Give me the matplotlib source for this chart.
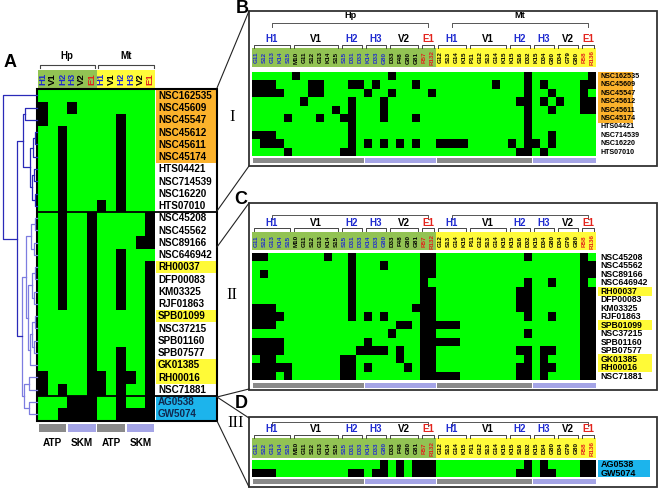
import numpy as np
import matplotlib.pyplot as plt
from matplotlib.patches import Rectangle
from matplotlib.colors import ListedColormap

plt.rcParams['font.family'] = ['Liberation Sans', 'DejaVu Sans']
plt.rcParams['font.weight'] = 'bold'

# ---------------- data ----------------
group_names = ["H1", "V1", "H2", "H3", "V2", "E1"]
bar_assay = ["ATP", "ATP", "ATP", "SKM", "SKM", "SKM"]
hp_residues = [["G11", "S12", "G13", "K14", "S15"],
               ["M10", "G11", "S12", "G13", "K14", "S15"],
               ["S15", "D31", "D33"],
               ["K14", "D33", "G80"],
               ["D33", "F48", "G80", "G81"],
               ["R57", "R132"]]
mt_residues = [["G12", "S13", "G14", "K15"],
               ["P11", "G12", "S13", "G14", "K15"],
               ["K15", "S16", "D32"],
               ["K15", "D34", "G80"],
               ["D34", "G79", "G80"],
               ["R58", "R136"]]

cluster_I = ["NSC162535", "NSC45609", "NSC45547", "NSC45612", "NSC45611",
             "NSC45174", "HTS04421", "NSC714539", "NSC16220", "HTS07010"]
cluster_II = ["NSC45208", "NSC45562", "NSC89166", "NSC646942", "RH00037",
              "DFP00083", "KM03325", "RJF01863", "SPB01099", "NSC37215",
              "SPB01160", "SPB07577", "GK01385", "RH00016", "NSC71881"]
cluster_III = ["AG0538", "GW5074"]

orange_names = ["NSC162535", "NSC45609", "NSC45547", "NSC45612", "NSC45611", "NSC45174"]
yellow_names = ["RH00037", "SPB01099", "GK01385", "RH00016"]
cyan_names = ["AG0538", "GW5074"]

# black cells (column index per row); everything else is green
summary_black = [[], [0, 3], [0, 8], [2, 8], [2, 8], [2, 8], [2, 8], [2, 8], [2, 8],
                 [2, 6, 8],
                 [2, 5, 11], [2, 5, 11], [2, 5, 10, 11], [2, 5, 8], [2, 5, 8, 11],
                 [2, 5, 8, 11], [2, 5, 8, 11], [2, 5, 8, 11], [5, 11], [5, 11],
                 [5, 11], [5, 8, 11], [5, 8, 11], [0, 5, 6, 8, 9, 11], [0, 2, 5, 6, 8, 11],
                 [3, 4, 5, 8, 11], [2, 3, 4, 5, 8, 9, 10, 11]]

cluster_I_black = [[5, 17, 34, 42],
                   [0, 1, 2, 7, 8, 12, 13, 15, 20, 30, 34, 36, 41, 42],
                   [0, 1, 2, 3, 7, 8, 14, 17, 22, 34, 37, 41],
                   [6, 12, 16, 33, 34, 36, 38, 41, 42],
                   [10, 12, 16, 34, 37, 41, 42],
                   [4, 8, 11, 12, 16, 20, 34],
                   [12, 34],
                   [0, 1, 2, 12, 34, 37],
                   [1, 2, 3, 12, 14, 16, 18, 20, 23, 24, 25, 26, 32, 34, 35, 37],
                   [4, 11, 12, 33, 34, 36]]

cluster_II_black = [[0, 1, 9, 12, 21, 22, 34, 41],
                    [12, 16, 21, 22, 41, 42],
                    [1, 12, 21, 22, 41, 42],
                    [12, 21, 34, 37, 41],
                    [12, 21, 22, 33, 34, 41, 42],
                    [12, 21, 22, 33, 34, 41, 42],
                    [0, 1, 2, 12, 20, 21, 22, 33, 34, 41, 42],
                    [0, 1, 2, 3, 12, 14, 16, 21, 22, 34, 37, 41, 42],
                    [0, 1, 2, 18, 19, 21, 22, 23, 24, 25, 41, 42],
                    [17, 21, 22, 34, 41, 42],
                    [0, 1, 2, 3, 14, 21, 22, 23, 24, 25, 41, 42],
                    [0, 1, 2, 3, 13, 14, 15, 16, 18, 21, 22, 33, 34, 36, 37, 41, 42],
                    [1, 2, 11, 12, 18, 21, 22, 34, 36, 41, 42],
                    [0, 1, 2, 3, 4, 11, 12, 14, 19, 21, 22, 33, 34, 36, 37, 41, 42],
                    [0, 1, 2, 4, 11, 12, 21, 22, 23, 24, 25, 33, 34, 36, 41, 42]]

cluster_III_black = [[16, 18, 20, 21, 22, 34, 36, 41, 42],
                     [0, 1, 2, 12, 13, 15, 16, 18, 20, 21, 22, 33, 34, 36, 37, 41, 42]]

# dendrogram merges: (child a, child b, distance); new node id = 27 + index
merges = [(3, 4, 2), (27, 5, 4), (6, 7, 3), (8, 9, 2), (29, 30, 5), (28, 31, 7),
          (1, 2, 12), (33, 32, 14), (10, 11, 2), (12, 13, 3), (35, 36, 6),
          (14, 15, 2), (16, 17, 3), (38, 39, 5), (18, 19, 2), (20, 21, 3),
          (41, 42, 5), (43, 22, 7), (40, 44, 9), (37, 45, 11), (23, 24, 8),
          (25, 26, 8), (47, 48, 13), (46, 49, 15), (34, 50, 20), (0, 51, 34)]

# ---------------- style ----------------
GREEN = "#00ff00"
heat_cmap = ListedColormap([GREEN, "#000000"])
HP_BAND = "#92c353"
MT_BAND = "#fffb3a"
BLUE = "#1f2bd0"
RED = "#e3231c"
ORANGE_HL = "#fbb22c"
YELLOW_HL = "#fffa37"
CYAN_HL = "#1cb4ec"
BAR_COL = {"ATP": "#8a8a8a", "SKM": "#a4a4e6"}
group_color = [BLUE, "black", BLUE, BLUE, "black", RED]

fig = plt.figure(figsize=(6.62, 4.91), dpi=100)
ax = fig.add_axes([0, 0, 1, 1])
ax.set_xlim(0, 662)
ax.set_ylim(491, 0)
ax.axis("off")


def hl_color(name):
    if name in orange_names:
        return ORANGE_HL
    if name in yellow_names:
        return YELLOW_HL
    if name in cyan_names:
        return CYAN_HL
    return None


# ---------------- panel A ----------------
AX0, AX1 = 38, 155
AY0, AY1 = 89.3, 420.3
all_names = cluster_I + cluster_II + cluster_III
nA = len(all_names)
aw = (AX1 - AX0) / 12
ah = (AY1 - AY0) / nA

matA = np.zeros((nA, 12))
for r, cs in enumerate(summary_black):
    matA[r, cs] = 1
ax.pcolormesh(np.linspace(AX0, AX1, 13), np.linspace(AY0, AY1, nA + 1), matA,
              cmap=heat_cmap, vmin=0, vmax=1)

# header band
ax.add_patch(Rectangle((AX0, 70), 6 * aw, 18, fc=HP_BAND, ec="none"))
ax.add_patch(Rectangle((AX0 + 6 * aw, 70), 6 * aw, 18, fc=MT_BAND, ec="none"))
for p in range(2):
    for g, name in enumerate(group_names):
        c = p * 6 + g
        ax.text(AX0 + (c + 0.5) * aw, 79, name, rotation=90, ha="center", va="center",
                fontsize=6.8, color=group_color[g])
    xa, xb = AX0 + p * 6 * aw + 1.5, AX0 + (p + 1) * 6 * aw - 1.5
    ax.plot([xa, xa, xb, xb], [67.5, 64.5, 64.5, 67.5], color="#444444", lw=0.8)
    ax.text((xa + xb) / 2, 56, ["Hp", "Mt"][p], ha="center", va="center", fontsize=7)

# labels with highlights
for r, name in enumerate(all_names):
    col = hl_color(name)
    y = AY0 + r * ah
    if col:
        ax.add_patch(Rectangle((155.5, y), 61, ah, fc=col, ec="none"))
    ax.text(158, y + ah / 2 + 0.3, name, ha="left", va="center", fontsize=7.1,
            color="#10284e" if name in cyan_names else "black")

# frame
ax.add_patch(Rectangle((37, 88.5), 180, 332.5, fc="none", ec="black", lw=1.5))
for k in [len(cluster_I), len(cluster_I) + len(cluster_II)]:
    ax.plot([37, 217], [AY0 + k * ah] * 2, color="black", lw=1.3)

# assay bars
for p in range(2):
    for assay in ["ATP", "SKM"]:
        gs = [g for g in range(6) if bar_assay[g] == assay]
        x0 = AX0 + (p * 6 + gs[0]) * aw + 0.8
        x1 = AX0 + (p * 6 + gs[-1] + 1) * aw - 0.8
        ax.add_patch(Rectangle((x0, 424), x1 - x0, 8, fc=BAR_COL[assay], ec="none"))
        ax.text((x0 + x1) / 2, 443, assay, ha="center", va="center", fontsize=7.2)

# dendrogram
leaf_y = [AY0 + (i + 0.5) * ah for i in range(nA)]
node_pos = {i: (AX0 - 1, leaf_y[i]) for i in range(nA)}
for k, (a, b, d) in enumerate(merges):
    xa, ya = node_pos[a]
    xb, yb = node_pos[b]
    xn = AX0 - 1 - d
    lc = "#2a2ab8" if (k <= 7 or k >= 24) else "#7d7de0"
    ax.plot([xa, xn, xn, xb], [ya, ya, yb, yb], color=lc, lw=0.9)
    node_pos[27 + k] = (xn, (ya + yb) / 2)

ax.text(10.5, 62.5, "A", ha="center", va="center", fontsize=13)

# ---------------- detail panels B, C, D ----------------
cols = []
spans = []
for p, res in enumerate([hp_residues, mt_residues]):
    for g, rs in enumerate(res):
        spans.append((p, g, len(cols), len(cols) + len(rs)))
        for r in rs:
            cols.append((p, g, r))
ncol = len(cols)
DX0, DW = 252, 8.0
DX1 = DX0 + ncol * DW


def xc(i):
    return DX0 + i * DW


def draw_detail(names, black, box, heat, top_br, glab_y, gbr_y, band, bar_y,
                lab_size, hl_right, show_hpmt):
    n = len(names)
    mat = np.zeros((n, ncol))
    for r, cs in enumerate(black):
        mat[r, cs] = 1
    ye = np.linspace(heat[0], heat[1], n + 1)
    ax.pcolormesh(np.linspace(DX0, DX1, ncol + 1), ye, mat, cmap=heat_cmap,
                  vmin=0, vmax=1)
    rh = (heat[1] - heat[0]) / n

    # band and residue labels
    hp_end = xc(sum(len(r) for r in hp_residues))
    ax.add_patch(Rectangle((DX0, band[0]), hp_end - DX0, band[1] - band[0],
                           fc=HP_BAND, ec="none"))
    ax.add_patch(Rectangle((hp_end, band[0]), DX1 - hp_end, band[1] - band[0],
                           fc=MT_BAND, ec="none"))
    for i, (p, g, r) in enumerate(cols):
        if g == 5:
            c = RED
        elif p == 0:
            c = group_color[g]
        else:
            c = "black"
        ax.text(xc(i + 0.5), (band[0] + band[1]) / 2, r, rotation=90, ha="center",
                va="center", fontsize=4.5, color=c)

    # group brackets
    for p, g, s, e in spans:
        xl, xr = xc(s) + 2, xc(e) - 2
        ax.plot([xl, xl, xr, xr], [gbr_y + 2.5, gbr_y, gbr_y, gbr_y + 2.5],
                color="#444444", lw=0.7)
        ax.text((xc(s) + xc(e)) / 2, glab_y, group_names[g], ha="center",
                va="center", fontsize=7, color=group_color[g])
    for p in range(2):
        ps = [sp for sp in spans if sp[0] == p]
        xa = (xc(ps[0][2]) + xc(ps[0][3])) / 2
        xb = (xc(ps[-1][2]) + xc(ps[-1][3])) / 2
        ax.plot([xa, xa, xb, xb], [top_br + 3.5, top_br, top_br, top_br + 3.5],
                color="#555555", lw=0.7)
        if show_hpmt:
            ax.text((xa + xb) / 2, top_br - 8, ["Hp", "Mt"][p], ha="center",
                    va="center", fontsize=6.6)

    # assay bars
    for p in range(2):
        ps = [sp for sp in spans if sp[0] == p]
        for assay in ["ATP", "SKM"]:
            sel = [sp for sp in ps if bar_assay[sp[1]] == assay]
            x0, x1 = xc(sel[0][2]) + 0.5, xc(sel[-1][3]) - 0.5
            ax.add_patch(Rectangle((x0, bar_y), x1 - x0, 5, fc=BAR_COL[assay], ec="none"))

    # row labels
    r = 0
    while r < n:
        col = hl_color(names[r])
        if col:
            k = r
            while k < n and hl_color(names[k]) == col:
                k += 1
            ax.add_patch(Rectangle((598, heat[0] + r * rh - 0.3), hl_right - 598,
                                   (k - r) * rh + 0.6, fc=col, ec="none"))
            r = k
        else:
            r += 1
    for r, name in enumerate(names):
        ax.text(600.5, heat[0] + (r + 0.5) * rh + 0.3, name, ha="left", va="center",
                fontsize=lab_size, color="black")

    ax.add_patch(Rectangle((249, box[0]), 408, box[1] - box[0], fc="none",
                           ec="#333333", lw=1.3))


draw_detail(cluster_I, cluster_I_black, (11, 166), (72, 156), 23, 39, 45, (48, 67),
            158, 5.1, 633, True)
draw_detail(cluster_II, cluster_II_black, (203, 390), (253, 380), 215, 223, 228,
            (232, 250), 382.5, 6.2, 652, False)
draw_detail(cluster_III, cluster_III_black, (417, 487), (460, 477), 422, 429, 435,
            (438, 458), 479, 6.5, 650, False)

for lab, (x, y) in zip(["B", "C", "D"], [(242, 8), (241, 200), (241, 403)]):
    ax.text(x, y, lab, ha="center", va="center", fontsize=13)
for lab, (x, y) in zip(["I", "II", "III"], [(232, 117), (232, 295), (236, 423)]):
    ax.text(x, y, lab, ha="center", va="center", fontsize=12,
            family="Liberation Serif", fontweight="normal")

# connectors from panel A to panels B, C, D
for (x0, y0), (x1, y1) in [((217, 88), (249, 11)), ((217, 211), (249, 166)),
                           ((217, 247), (249, 203)), ((217, 397), (249, 389)),
                           ((217, 397), (249, 418)), ((217, 421), (249, 487))]:
    ax.plot([x0, x1], [y0, y1], color="#222222", lw=0.8)

fig.savefig("out.png", dpi=100)
